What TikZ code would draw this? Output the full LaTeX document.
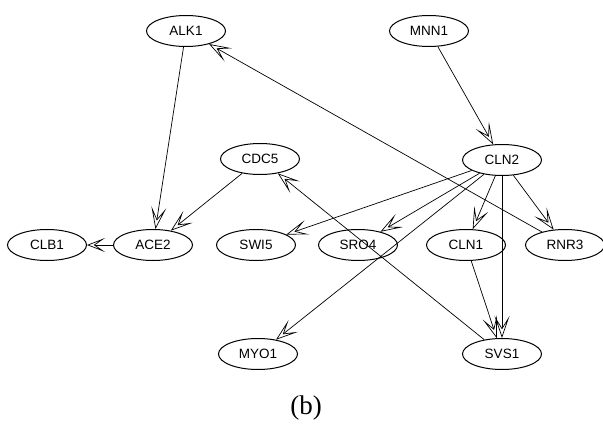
\documentclass[tikz,border=0pt]{standalone}
\usepackage{fontspec}
\setmainfont{Liberation Serif}
\newfontfamily\gfont{Liberation Sans}
\usetikzlibrary{arrows.meta,shapes.geometric}
\begin{document}
\begin{tikzpicture}[x=1pt,y=-1pt,
  gene/.style={ellipse,draw=black,line width=1pt,fill=white,minimum width=79pt,minimum height=31pt,inner sep=0pt,font=\gfont\fontsize{13.5}{15}\selectfont},
  edge/.style={line width=0.7pt,-{Stealth[open,length=22pt,width=15pt,inset=12pt]}}]
\useasboundingbox (0,0) rectangle (603,433);
\node[gene] (ALK1) at (186,31) {ALK1};
\node[gene] (MNN1) at (429,31) {MNN1};
\node[gene] (CDC5) at (260,159) {CDC5};
\node[gene] (CLN2) at (502,160) {CLN2};
\node[gene] (CLB1) at (47,245) {CLB1};
\node[gene] (ACE2) at (153,245) {ACE2};
\node[gene] (SWI5) at (256,245) {SWI5};
\node[gene] (SRO4) at (358,245) {SRO4};
\node[gene] (CLN1) at (466,245) {CLN1};
\node[gene] (RNR3) at (565,245) {RNR3};
\node[gene] (MYO1) at (258,354) {MYO1};
\node[gene] (SVS1) at (502,354) {SVS1};
\node[font=\fontsize{27}{30}\selectfont] (lab) at (306,408) {(b)};
\draw[edge] (ALK1) -- (ACE2);
\draw[edge] (CDC5) -- (ACE2);
\draw[edge,-{Stealth[open,length=18pt,width=14pt,inset=10pt]}] (ACE2) -- (CLB1);
\draw[edge] (MNN1) -- (CLN2);
\draw[edge] (RNR3) -- (ALK1);
\draw[edge] (SVS1) -- (CDC5);
\draw[edge] (CLN2) -- (SWI5);
\draw[edge] (CLN2) -- (SRO4);
\draw[edge] (CLN2) -- (MYO1);
\draw[edge] (CLN2) -- (CLN1);
\draw[edge] (CLN2) -- (SVS1);
\draw[edge] (CLN2) -- (RNR3);
\draw[edge] (CLN1) -- (SVS1);
\end{tikzpicture}
\end{document}
